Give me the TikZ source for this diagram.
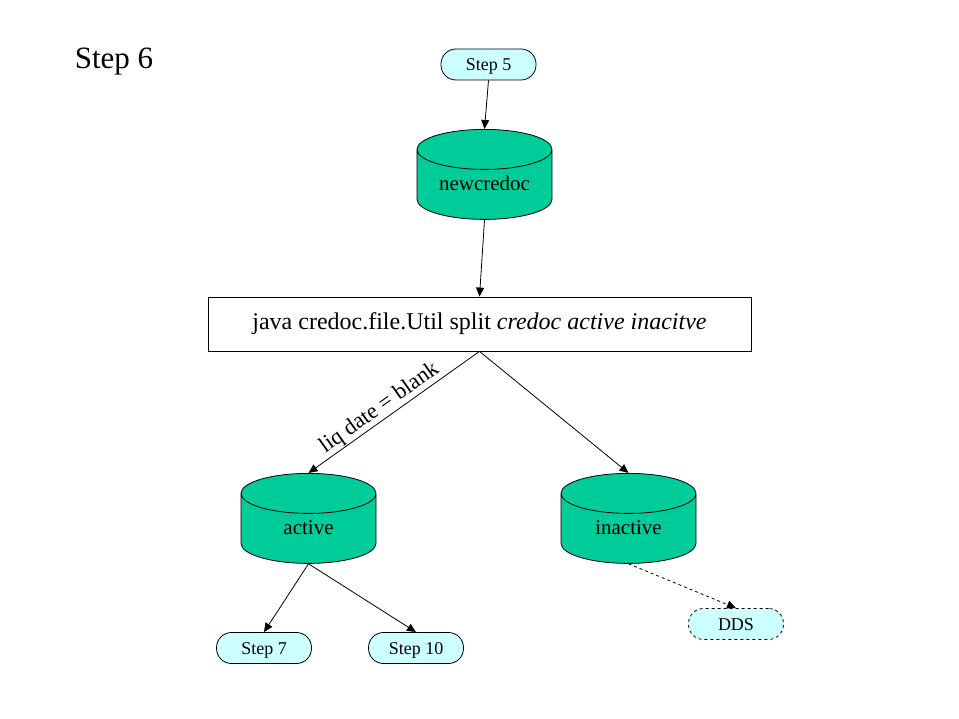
\documentclass[tikz,border=0pt]{standalone}
\usepackage{fontspec}
\setmainfont{Liberation Serif}
\usetikzlibrary{shapes.geometric,arrows.meta}
\definecolor{dbgreen}{RGB}{0,204,153}
\definecolor{stepcyan}{RGB}{204,255,255}

\begin{document}
\begin{tikzpicture}[x=1pt,y=-1pt,>={Triangle[length=9,width=8]},line width=0.8pt,
  stepnode/.style={draw,fill=stepcyan,rounded corners=15,minimum width=95,minimum height=31,inner sep=0,text height=13,text depth=0,font=\fontsize{18}{20}\selectfont},
  db/.style={draw,cylinder,shape border rotate=90,aspect=0.4,fill=dbgreen,minimum width=135,minimum height=90,inner sep=0,text width=100,align=center,text height=15,text depth=4,anchor=top,font=\fontsize{21}{24}\selectfont},
  cmd/.style={draw,fill=white,minimum width=543,minimum height=54,inner sep=0,font=\fontsize{24}{27}\selectfont}]
\useasboundingbox[fill=white] (0,0) rectangle (959,719);
\node[font=\fontsize{31}{36}\selectfont] (title) at (114,62) {Step 6};

\node[stepnode] (s5) at (488.5,64.5) {Step 5};
\node[db] (newcredoc) at (484.5,129) {newcredoc};
\node[cmd] (split) at (479.5,324) {java credoc.file.Util split \textit{credoc active inacitve}};
\node[db] (active) at (308.5,473) {active};
\node[db] (inactive) at (628.5,473) {inactive};
\node[stepnode] (s7) at (264,648) {Step 7};
\node[stepnode] (s10) at (416,648) {Step 10};
\node[stepnode,dashed] (dds) at (736,624) {DDS};

\draw[->] (s5.south) -- (newcredoc.top);
\draw[->] (newcredoc.bottom) -- (split.north);
\draw[->] (split.south) -- node[sloped,above,pos=0.545,font=\fontsize{22.5}{24}\selectfont,inner sep=1] {liq date = blank} (active.top);
\draw[->] (split.south) -- (inactive.top);
\draw[->] (active.bottom) -- (s7.north);
\draw[->] (active.bottom) -- (s10.north);
\draw[->,dashed] (inactive.bottom) -- (dds.north);
\end{tikzpicture}
\end{document}
